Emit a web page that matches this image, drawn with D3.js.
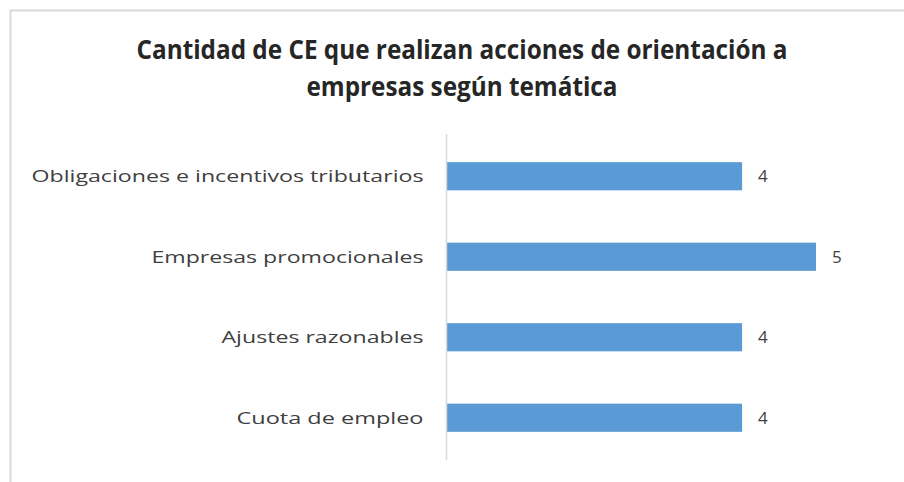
<!DOCTYPE html>
<html>
<head>
<meta charset="utf-8">
<script src="https://cdn.jsdelivr.net/npm/d3@7"></script>
<style>
  html, body { margin: 0; padding: 0; background: #fff; }
  svg { display: block; }
</style>
</head>
<body>
<svg id="chart" width="904" height="482"></svg>
<script>
const categories = [
  "Obligaciones e  incentivos tributarios",
  "Empresas promocionales",
  "Ajustes razonables",
  "Cuota de empleo"
];
const values = [4, 5, 4, 4];
const titleLines = [
  "Cantidad de CE que realizan acciones de orientación a",
  "empresas según temática"
];

const svg = d3.select("#chart");
const W = 904, H = 482;

// chart frame (left + top edges visible)
svg.append("path")
  .attr("d", `M10.5,${H} V10.5 H${W}`)
  .attr("fill", "none")
  .attr("stroke", "#d9d9d9")
  .attr("stroke-width", 2);

// title
const titleWidths = [651, 311];
svg.append("g").selectAll("text").data(titleLines).join("text")
  .attr("x", 462)
  .attr("y", (d, i) => 59 + i * 37)
  .attr("text-anchor", "middle")
  .attr("font-family", "'Liberation Sans Narrow', 'Open Sans', 'Noto Sans', sans-serif")
  .attr("font-weight", "bold")
  .attr("font-size", 27)
  .attr("fill", "#262626")
  .attr("textLength", (d, i) => titleWidths[i])
  .attr("lengthAdjust", "spacingAndGlyphs")
  .text(d => d);

const x0 = 446.5;
const x = d3.scaleLinear().domain([0, 5]).range([x0, 816]);
const y = d3.scaleBand().domain(categories).range([136, 458]).paddingInner(0.65).paddingOuter(0.325);

// bars
svg.append("g").selectAll("rect").data(values).join("rect")
  .attr("x", x(0))
  .attr("y", (d, i) => y(categories[i]))
  .attr("width", d => x(d) - x(0))
  .attr("height", y.bandwidth())
  .attr("fill", "#5b9bd5");

// axis (category)
const yAxis = d3.axisLeft(y).tickSize(0).tickPadding(23);
const gAxis = svg.append("g").attr("transform", `translate(${x0},0)`).call(yAxis);
gAxis.select(".domain").attr("d", `M0,134V460`).attr("stroke", "#d9d9d9").attr("stroke-width", 1.5);
const labelWidths = [392, 272, 202, 187];
gAxis.selectAll(".tick text")
  .attr("font-family", "'Open Sans', 'Noto Sans', sans-serif")
  .attr("font-size", 16.5)
  .attr("fill", "#404040")
  .attr("dy", "0.35em")
  .attr("textLength", (d, i) => labelWidths[i])
  .attr("lengthAdjust", "spacingAndGlyphs");

// value labels
svg.append("g").selectAll("text").data(values).join("text")
  .attr("x", d => x(d) + 16)
  .attr("y", (d, i) => y(categories[i]) + y.bandwidth() / 2)
  .attr("dy", "0.35em")
  .attr("font-family", "'Open Sans', 'Noto Sans', sans-serif")
  .attr("font-size", 17)
  .attr("fill", "#404040")
  .text(d => d);
</script>
</body>
</html>
